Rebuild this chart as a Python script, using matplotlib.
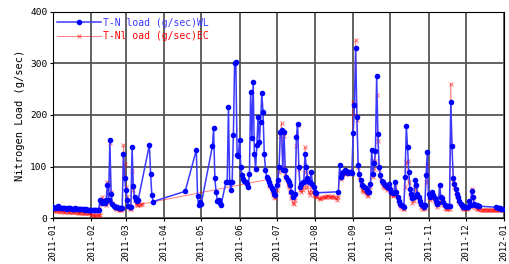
import matplotlib
matplotlib.use('Agg')
import matplotlib.pyplot as plt
import matplotlib.dates as mdates
import pandas as pd

plt.rcParams['font.family'] = ['DejaVu Sans Mono']

# days counted from 2011-01-01
wl_days = (list(range(0, 70)) + [78, 79, 80, 81, 107, 116, 117, 118, 119, 120]
           + list(range(129, 137)) + list(range(140, 214)) + list(range(231, 346))
           + list(range(359, 365)))
wl_vals = [21, 20, 20, 22, 24, 21, 20, 19, 20, 19, 19, 18, 19, 20, 19, 18, 18, 18, 19, 18,
           17, 17, 18, 17, 17, 17, 16, 17, 16, 16, 16,
           16, 16, 16, 15, 16, 16, 16,
           36, 34, 30, 33, 30, 35, 64, 35, 152, 47, 28, 24, 22, 21, 21, 20, 20, 19, 19,
           125, 78, 54, 36, 24, 22, 21, 137, 62, 40, 35, 33, 36,
           142, 85, 44, 32, 52, 132, 42, 25, 32, 28,
           139, 174, 77, 51, 34, 36, 29, 25,
           70, 70, 216, 70, 54, 70, 161, 300, 302, 122, 121, 151, 99, 83, 76, 72, 70, 66, 60, 86,
           245, 156, 263, 125, 96, 141, 196, 148, 187, 242, 206, 125, 94, 80, 75, 70, 64, 58, 54,
           47, 44,
           64, 73, 100, 167, 171, 93, 167, 93, 80, 73, 70, 64, 51, 41, 44, 46, 158, 182, 99, 60,
           67, 70, 70, 125, 99, 77, 70, 70, 90, 67, 60, 51, 49,
           51, 102, 80, 85, 90, 93, 92, 90, 88, 90, 90, 88,
           165, 219, 330, 197, 103, 85, 73, 64, 62, 60, 58, 53, 51, 51, 66, 132, 86, 106, 130, 276,
           163, 99, 83, 72, 70, 67, 64, 60, 62, 67,
           57, 51, 48, 48, 70, 51, 41, 34, 28, 25, 23, 22, 80, 178, 138, 90, 57, 47, 38, 41,
           73, 64, 47, 41, 34, 28, 25, 22, 25, 83, 128,
           47, 41, 44, 51, 44, 38, 34, 27, 30, 64, 41, 38, 31, 25, 23, 23, 23, 23, 226, 139,
           77, 67, 57, 47, 41, 34, 28, 25, 22, 22,
           22, 22, 22, 34, 25, 53, 41, 28, 26, 25, 23, 23,
           21, 20, 19, 19, 18, 18]

ec_days = list(range(0, 73)) + list(range(174, 365))
ec_vals = [15, 14, 13, 14, 15, 13, 12, 13, 13, 12, 12, 13, 12, 12, 11, 12, 11, 11, 12, 11,
           10, 10, 11, 10, 10, 9, 10, 10, 9, 9, 9,
           6, 5, 5, 4, 5, 6, 5, 6,
           30, 40, 28, 31, 25, 70, 30, 145, 50, 30, 25, 20, 18, 17, 16, 15, 16, 17,
           141, 105, 60, 40, 22, 18, 18, 92, 55, 35, 28, 25, 25, 26, 27, 27,
           75, 65, 60, 52, 45, 40, 38,
           55, 65, 90, 160, 184, 100, 160, 85, 75, 65, 60, 50, 38, 30, 28, 35, 140, 180, 95, 55,
           50, 55, 60, 138, 90, 60, 50, 45, 65, 50, 45,
           42, 43, 40, 38, 37, 38, 40, 41, 40, 41, 42, 42, 41, 40, 42, 41, 40, 38, 36, 40,
           85, 75, 80, 88, 85, 86, 88, 90, 92, 88, 86,
           226, 200, 345, 190, 100, 80, 65, 55, 52, 50, 48, 45, 42, 48, 60, 110, 80, 95, 110, 239,
           150, 95, 80, 68, 62, 60, 58, 55, 58, 60,
           52, 45, 42, 44, 60, 45, 36, 30, 24, 20, 18, 18, 60, 109, 110, 70, 45, 40, 30, 34,
           60, 55, 40, 34, 28, 21, 18, 17, 20, 70, 103,
           40, 35, 38, 45, 38, 32, 28, 22, 25, 62, 35, 30, 25, 20, 18, 17, 17, 18, 261, 140,
           70, 60, 50, 42, 35, 30, 24, 20, 18, 17,
           17, 18, 20, 30, 22, 57, 38, 24, 20, 18, 17, 17, 16, 16, 16, 15, 16, 15, 15, 16,
           15, 15, 16, 15, 15, 15, 16, 15, 15, 15, 15]

start = pd.Timestamp('2011-01-01')
wl_dates = start + pd.to_timedelta(wl_days, unit='D')
ec_dates = start + pd.to_timedelta(ec_days, unit='D')

fig = plt.figure(figsize=(5.1, 2.64), dpi=100)
ax = fig.add_axes([0.104, 0.174, 0.884, 0.781])

l_wl, = ax.plot(wl_dates, wl_vals, color='#3a3aff', lw=1.1, marker='o', ms=3.0,
                mfc='blue', mec='blue', zorder=3, label='T-N load (g/sec)WL')
l_ec, = ax.plot(ec_dates, ec_vals, color='red', lw=0.7, alpha=0.5, marker='x', ms=3.5,
                mew=0.8, zorder=2, label='T-Nl oad (g/sec)EC')

ax.set_xlim(start, pd.Timestamp('2012-01-01'))
ax.set_ylim(0, 400)
ax.set_yticks([0, 100, 200, 300, 400])
ax.xaxis.set_major_locator(mdates.MonthLocator())
ax.xaxis.set_major_formatter(mdates.DateFormatter('%Y-%m'))
ax.tick_params(axis='x', labelrotation=90, labelsize=6.5, length=2.5, pad=1.5)
ax.tick_params(axis='y', labelsize=6.8, length=2.5, pad=1.5)
ax.grid(True, color='#555555', lw=1.3)
ax.set_axisbelow(True)
ax.set_ylabel('Nitrogen Load (g/sec)', fontsize=7.5, labelpad=4)

leg = ax.legend(handles=[l_wl, l_ec], loc='upper left', frameon=False, fontsize=7,
                handlelength=4.6, handletextpad=0.15, labelspacing=0.35,
                borderaxespad=0.6, borderpad=0, numpoints=1,
                bbox_to_anchor=(-0.005, 1.0))
leg.get_texts()[0].set_color('#3a3aff')
leg.get_texts()[1].set_color('red')

fig.savefig('out.png', dpi=100)
